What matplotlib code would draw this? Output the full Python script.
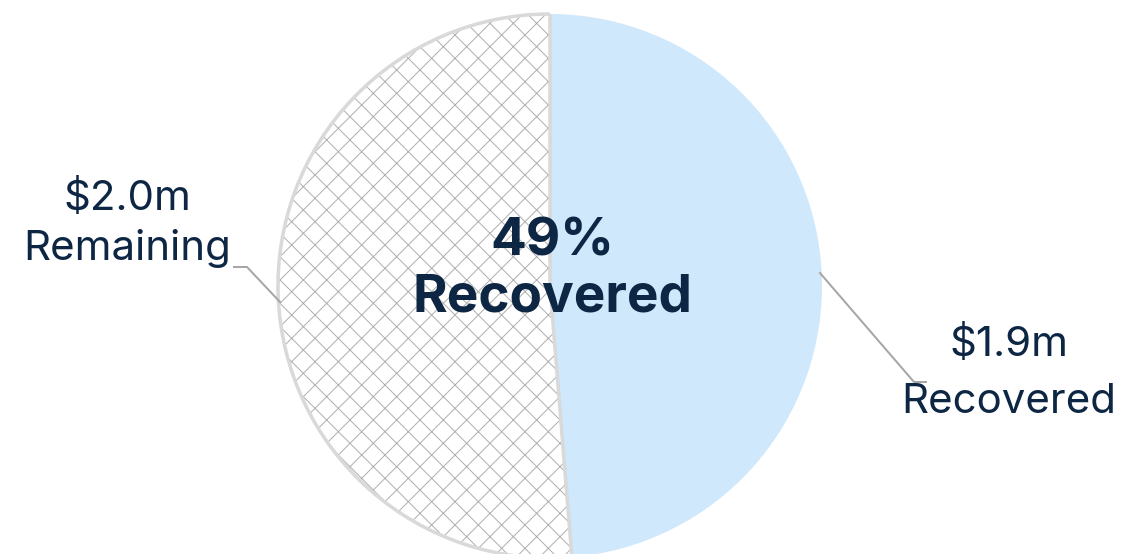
import matplotlib.pyplot as plt
from matplotlib.patches import Wedge

labels = ['Recovered', 'Remaining']
values = [1.9, 2.0]
colors = ['#cfe8fc', 'white']
text_color = '#0d2644'

DPI = 140


def pt(px):
    # pixel size -> points at this dpi
    return px * 72 / DPI


plt.rcParams['font.family'] = ['Inter', 'DejaVu Sans']
plt.rcParams['hatch.linewidth'] = pt(1.0)

W, H = 1123, 554
fig = plt.figure(figsize=(W / DPI, H / DPI), dpi=DPI)
ax = fig.add_axes([0, 0, 1, 1])

cx, cy, r = 550, H - 286, 272
wedges, _ = ax.pie(values, colors=colors, startangle=90, counterclock=False,
                   center=(cx, cy), radius=r, frame=True)
ax.set_xlim(0, W)
ax.set_ylim(0, H)
ax.axis('off')
wedges[0].set_linewidth(0)
wedges[1].set_hatch('xx')
wedges[1].set_edgecolor('#b0b0b0')
wedges[1].set_linewidth(0)

# light grey outline over the hatched slice
w = wedges[1]
ax.add_patch(Wedge(w.center, w.r, w.theta1, w.theta2, fill=False,
                   edgecolor='#d9d9d9', lw=pt(3.5), zorder=3))

share = values[0] / sum(values)
ax.text(cx + 2, H - 255, f'{share:.0%}', ha='center', va='baseline',
        fontsize=pt(53), fontweight='bold', color=text_color, zorder=5)
ax.text(cx + 2, H - 312, labels[0], ha='center', va='baseline',
        fontsize=pt(53), fontweight='bold', color=text_color, zorder=5)

# leader lines
line_kw = dict(color='#a6a6a6', lw=pt(2), zorder=4)
ax.plot([820, 914, 926], [H - 273, H - 382, H - 382], **line_kw)
ax.plot([280, 247, 234], [H - 302, H - 267, H - 267], **line_kw)

lab_kw = dict(ha='center', va='baseline', fontsize=pt(42), color=text_color)
ax.text(1009, H - 356, f'${values[0]:.1f}m', **lab_kw)
ax.text(1009, H - 413, labels[0], **lab_kw)
ax.text(127, H - 210, f'${values[1]:.1f}m', **lab_kw)
ax.text(127, H - 260, labels[1], **lab_kw)

fig.savefig('out.png', dpi=DPI)
